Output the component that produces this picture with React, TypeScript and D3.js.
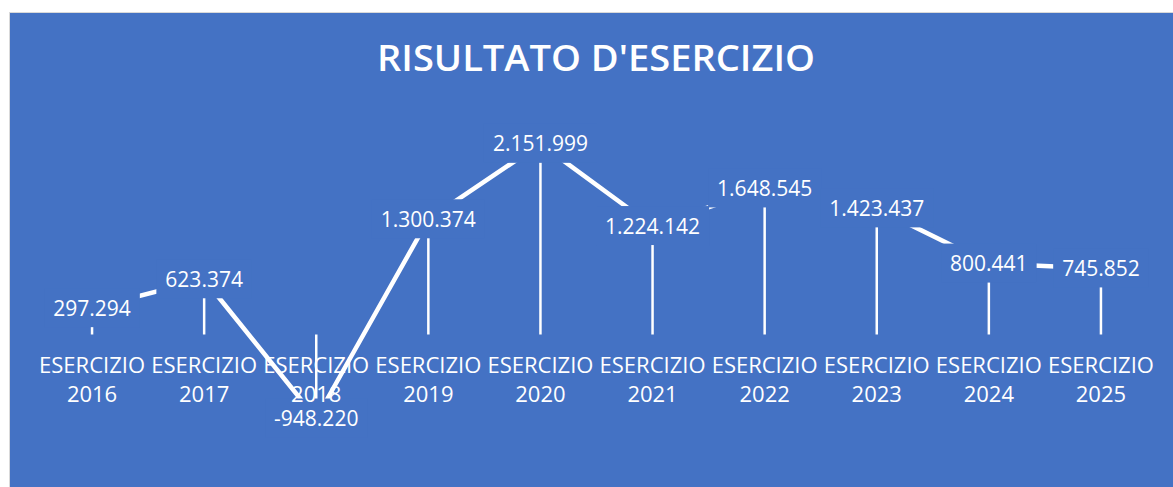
import React, { useEffect, useRef } from "react";
import * as d3 from "d3";

const categories = ["2016", "2017", "2018", "2019", "2020", "2021", "2022", "2023", "2024", "2025"];
const values = [297294, 623374, -948220, 1300374, 2151999, 1224142, 1648545, 1423437, 800441, 745852];
const title = "RISULTATO D'ESERCIZIO";
const categoryPrefix = "ESERCIZIO";

const width = 1173;
const height = 487;
const blue = "#4472C4";
const font = "'Open Sans', 'Noto Sans', sans-serif";

export default function App() {
  const ref = useRef<SVGSVGElement>(null);

  useEffect(() => {
    const svg = d3.select(ref.current);
    svg.selectAll("*").remove();

    const it = d3.formatLocale({ decimal: ",", thousands: ".", grouping: [3], currency: ["€", ""], minus: "-" });
    const fmt = it.format(",d");

    const x = d3.scaleBand().domain(categories).range([36, 1157]).paddingInner(0).paddingOuter(0);
    const y = d3.scaleLinear().domain([-1000000, 2500000]).range([423.1, 113]);
    const cx = (c: string) => (x(c) as number) + x.bandwidth() / 2;

    // background and frame
    svg.append("rect").attr("x", 0).attr("y", 0).attr("width", width).attr("height", height).attr("fill", "#fff");
    svg.append("rect")
      .attr("x", 9.5).attr("y", 12.5)
      .attr("width", width).attr("height", height)
      .attr("fill", blue).attr("stroke", "#d9d9d9").attr("stroke-width", 1);

    svg.append("text")
      .attr("x", 596).attr("y", 71)
      .attr("text-anchor", "middle")
      .attr("font-family", font).attr("font-weight", 600).attr("font-size", 36)
      .attr("textLength", 438).attr("lengthAdjust", "spacingAndGlyphs")
      .attr("fill", "#fff")
      .text(title);

    const data = categories.map((c, i) => ({ c, v: values[i] }));

    // line
    const line = d3.line<{ c: string; v: number }>().x((d) => cx(d.c)).y((d) => y(d.v));
    svg.append("path")
      .datum(data)
      .attr("d", line)
      .attr("fill", "none")
      .attr("stroke", "#fff")
      .attr("stroke-width", 4.5)
      .attr("stroke-linejoin", "round");

    // drop lines
    svg.append("g").selectAll("line").data(data).enter().append("line")
      .attr("x1", (d) => cx(d.c)).attr("x2", (d) => cx(d.c))
      .attr("y1", (d) => y(d.v)).attr("y2", y(0))
      .attr("stroke", "#fff").attr("stroke-width", 2.5);

    // groups: label boxes, axis labels, value texts
    const boxes = svg.append("g");
    const axis = svg.append("g");
    const labels = svg.append("g");

    const texts = labels.selectAll("text").data(data).enter().append("text")
      .attr("x", (d) => cx(d.c))
      .attr("y", (d) => y(d.v) + 7.5)
      .attr("text-anchor", "middle")
      .attr("font-family", font).attr("font-size", 21)
      .attr("fill", "#fff")
      .text((d) => fmt(d.v));
    texts.each(function (d) {
      const w = (this as SVGTextElement).getComputedTextLength();
      boxes.append("rect")
        .attr("x", cx(d.c) - w / 2 - 9)
        .attr("y", y(d.v) - 20)
        .attr("width", w + 18)
        .attr("height", 39)
        .attr("fill", blue);
    });

    categories.forEach((c) => {
      const t = axis.append("text")
        .attr("text-anchor", "middle")
        .attr("font-family", font).attr("font-size", 22)
        .attr("fill", "#fff");
      t.append("tspan").attr("x", cx(c)).attr("y", 373).text(categoryPrefix);
      t.append("tspan").attr("x", cx(c)).attr("y", 402).text(c);
    });
  }, []);

  return (
    <svg
      ref={ref}
      width={width}
      height={height}
      style={{ position: "absolute", left: 0, top: 0, display: "block" }}
    />
  );
}
